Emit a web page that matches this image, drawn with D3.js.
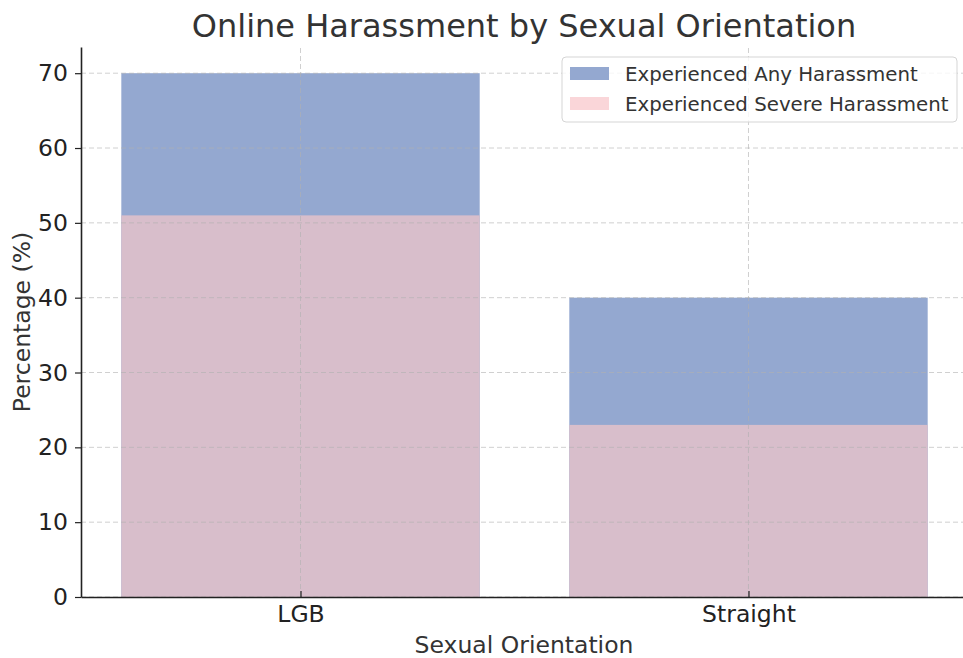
<!DOCTYPE html>
<html>
<head>
<meta charset="utf-8">
<script src="https://cdn.jsdelivr.net/npm/d3@7"></script>
<style>
  body { margin: 0; background: #fff; }
  text { font-family: "DejaVu Sans", sans-serif; fill: #333; }
</style>
</head>
<body>
<script>
// data
var categories = ["LGB", "Straight"];
var anyHarassment = [70, 40];
var severeHarassment = [51, 23];
var seriesNames = ["Experienced Any Harassment", "Experienced Severe Harassment"];
var yTicks = [0, 10, 20, 30, 40, 50, 60, 70];

var width = 963, height = 658;
var svg = d3.select("body").append("svg")
    .attr("width", width)
    .attr("height", height);

// scales
var x = d3.scaleLinear().domain([-0.49, 1.49]).range([81, 968]);
var y = d3.scaleLinear().domain([0, 73.5]).range([597, 47]);
var barW = x(0.8) - x(0);

// bars: any harassment
svg.selectAll(".bar-any")
    .data(anyHarassment)
    .enter().append("rect")
    .attr("class", "bar-any")
    .attr("x", function (d, i) { return x(i) - barW / 2; })
    .attr("y", function (d) { return y(d); })
    .attr("width", barW)
    .attr("height", function (d) { return y(0) - y(d); })
    .style("fill", "#94a8d0");

// bars: severe harassment (drawn over the blue ones)
svg.selectAll(".bar-severe")
    .data(severeHarassment)
    .enter().append("rect")
    .attr("class", "bar-severe")
    .attr("x", function (d, i) { return x(i) - barW / 2; })
    .attr("y", function (d) { return y(d); })
    .attr("width", barW)
    .attr("height", function (d) { return y(0) - y(d); })
    .style("fill", "#d8becb");

// grid lines on top
svg.append("g").selectAll("line")
    .data(yTicks)
    .enter().append("line")
    .attr("x1", x(-0.49)).attr("x2", x(1.49))
    .attr("y1", function (d) { return y(d); })
    .attr("y2", function (d) { return y(d); })
    .style("stroke", "#b0b0b0")
    .style("stroke-opacity", 0.6)
    .style("stroke-dasharray", "5,3")
    .style("stroke-width", 1);

svg.append("g").selectAll("line")
    .data(categories)
    .enter().append("line")
    .attr("x1", function (d, i) { return x(i); })
    .attr("x2", function (d, i) { return x(i); })
    .attr("y1", y(0)).attr("y2", y(73.5))
    .style("stroke", "#b0b0b0")
    .style("stroke-opacity", 0.6)
    .style("stroke-dasharray", "5,3")
    .style("stroke-width", 1);

// y axis
var yAxis = d3.axisLeft(y).tickValues(yTicks).tickSize(6).tickSizeOuter(0).tickPadding(7);
var gy = svg.append("g")
    .attr("transform", "translate(" + x(-0.49) + ",0)")
    .call(yAxis);
gy.select(".domain").style("stroke", "#222").style("stroke-width", 1.6);
gy.selectAll(".tick line").style("stroke", "#222").style("stroke-width", 1.2);
gy.selectAll(".tick text").style("font-size", "23.5px").style("fill", "#222")
    .style("font-family", "DejaVu Sans");

// x axis
var xAxis = d3.axisBottom(x).tickValues([0, 1])
    .tickFormat(function (d) { return categories[d]; })
    .tickSize(6).tickSizeOuter(0).tickPadding(6);
var gx = svg.append("g")
    .attr("transform", "translate(0," + y(0) + ")")
    .call(xAxis);
gx.select(".domain").style("stroke", "#222").style("stroke-width", 1.6);
gx.selectAll(".tick line").style("stroke", "#222").style("stroke-width", 1.2)
    .attr("y2", -6);
gx.selectAll(".tick text").style("font-size", "23.5px").style("fill", "#222")
    .style("font-family", "DejaVu Sans").attr("y", 8);

// title
svg.append("text")
    .attr("x", 524)
    .attr("y", 37)
    .style("text-anchor", "middle")
    .style("font-size", "32px")
    .text("Online Harassment by Sexual Orientation");

// axis titles
svg.append("text")
    .attr("x", 524)
    .attr("y", 653)
    .style("text-anchor", "middle")
    .style("font-size", "23.5px")
    .text("Sexual Orientation");

svg.append("text")
    .attr("transform", "translate(30," + ((y(0) + y(73.5)) / 2) + ") rotate(-90)")
    .style("text-anchor", "middle")
    .style("font-size", "23.5px")
    .text("Percentage (%)");

// legend
var legend = svg.append("g").attr("transform", "translate(562,57)");
legend.append("rect")
    .attr("width", 395).attr("height", 65)
    .attr("rx", 4)
    .style("fill", "#fff").style("fill-opacity", 0.8)
    .style("stroke", "#d5d5d5").style("stroke-width", 1);

var legendColors = ["#94a8d0", "#fad6d9"];
var items = legend.selectAll(".item")
    .data(seriesNames)
    .enter().append("g")
    .attr("class", "item")
    .attr("transform", function (d, i) { return "translate(8," + (10 + i * 30) + ")"; });

items.append("rect")
    .attr("width", 39).attr("height", 13)
    .style("fill", function (d, i) { return legendColors[i]; });

items.append("text")
    .attr("x", 55)
    .attr("y", 14)
    .style("font-size", "19.8px")
    .text(function (d) { return d; });
</script>
</body>
</html>
